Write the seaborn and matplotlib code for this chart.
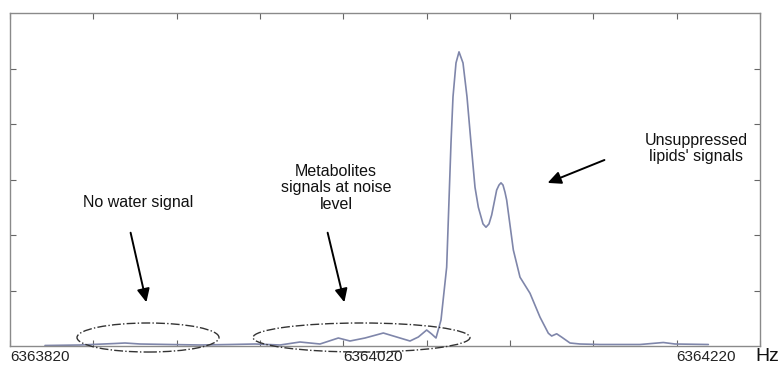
import numpy as np
import pandas as pd
import matplotlib
matplotlib.use("Agg")
import matplotlib.pyplot as plt
import seaborn as sns
from matplotlib.patches import Ellipse

# ---- data (frequency in Hz, intensity in arbitrary units) ----
freq_hz = [6363841, 6363862, 6363883, 6363889, 6363898, 6363916, 6363934, 6363952,
           6363967, 6363982, 6363994, 6364006, 6364017, 6364024, 6364033, 6364044,
           6364054, 6364060, 6364065, 6364070, 6364073, 6364075.6, 6364078.6, 6364082,
           6364084.6, 6364085.8, 6364087.6, 6364089.4, 6364091.8, 6364094.2, 6364096.6,
           6364099, 6364101, 6364103.8, 6364105.6, 6364107.4, 6364109, 6364112,
           6364113.4, 6364114.6, 6364115.8, 6364117, 6364118, 6364122, 6364126, 6364132,
           6364138, 6364143, 6364145, 6364148, 6364151, 6364156, 6364162, 6364174,
           6364198, 6364212, 6364219, 6364239]
intensity = [0.009, 0.018, 0.045, 0.054, 0.036, 0.027, 0.018, 0.027,
             0.036, 0.018, 0.072, 0.036, 0.144, 0.090, 0.144, 0.234,
             0.144, 0.090, 0.162, 0.288, 0.216, 0.144, 0.468, 1.42,
             3.66, 4.49, 5.10, 5.30, 5.10, 4.49, 3.66,
             2.86, 2.50, 2.20, 2.14, 2.20, 2.36, 2.81,
             2.90, 2.94, 2.90, 2.77, 2.63, 1.73, 1.24, 0.95,
             0.52, 0.23, 0.18, 0.22, 0.16, 0.054, 0.036, 0.027,
             0.027, 0.063, 0.036, 0.027]

x_ticks = [6363820, 6363870, 6363920, 6363970, 6364020, 6364070, 6364120, 6364170, 6364220, 6364270]
x_tick_labels = ["6363820", "", "", "", "6364020", "", "", "", "6364220", ""]
y_ticks = [1, 2, 3, 4, 5]

df = pd.DataFrame({"freq": freq_hz, "intensity": intensity})

sns.set_style("white")
plt.rcParams["font.family"] = ["Liberation Sans", "DejaVu Sans"]

fig = plt.figure(figsize=(7.82, 3.66), dpi=100)
ax = fig.add_axes([10 / 782, 20 / 366, 750 / 782, 333 / 366])

sns.lineplot(data=df, x="freq", y="intensity", ax=ax, color="#7f86aa", linewidth=1.2)

ax.set_xlim(6363820, 6364270)
ax.set_ylim(0, 6)
ax.set_xlabel("")
ax.set_ylabel("")
ax.set_xticks(x_ticks)
ax.set_xticklabels(x_tick_labels, fontsize=11, color="#222222")
for lbl in ax.get_xticklabels():
    lbl.set_horizontalalignment("left")
ax.set_yticks(y_ticks)
ax.set_yticklabels([])
ax.tick_params(axis="both", direction="in", length=4, width=0.8, color="#666666",
               top=True, right=True, bottom=True, left=True, pad=3)
for sp in ax.spines.values():
    sp.set_visible(True)
    sp.set_color("#8a8a8a")
    sp.set_linewidth(1.0)

# ---- annotations ----
txt_kw = dict(fontsize=11.5, color="#111111", ha="center", va="center")
ax.text(6363896.8, 2.59, "No water signal", **txt_kw)
ax.text(6364015.6, 2.85, "Metabolites\nsignals at noise\nlevel", linespacing=1.15, **txt_kw)
ax.text(6364231.6, 3.56, "Unsuppressed\nlipids' signals", linespacing=1.12, **txt_kw)

arrow_kw = dict(arrowstyle="-|>,head_length=0.8,head_width=0.38", color="black", lw=1.4)
ax.annotate("", xy=(6363902.2, 0.739), xytext=(6363892, 2.09), arrowprops=arrow_kw)
ax.annotate("", xy=(6364021, 0.739), xytext=(6364010.2, 2.09), arrowprops=arrow_kw)
ax.annotate("", xy=(6364141, 2.92), xytext=(6364178.2, 3.37), arrowprops=arrow_kw)

for cx, w in [(6363902.8, 85.2), (6364030.9, 130.2)]:
    e = Ellipse((cx, 0.153), width=w, height=0.523, fill=False, edgecolor="#333333",
                linestyle="-.", linewidth=1.0, clip_on=False, zorder=3)
    ax.add_patch(e)

fig.text(755 / 782, 1 / 366, "Hz", fontsize=14, ha="left", va="bottom", color="#111111")

fig.savefig("out.png", dpi=100)
